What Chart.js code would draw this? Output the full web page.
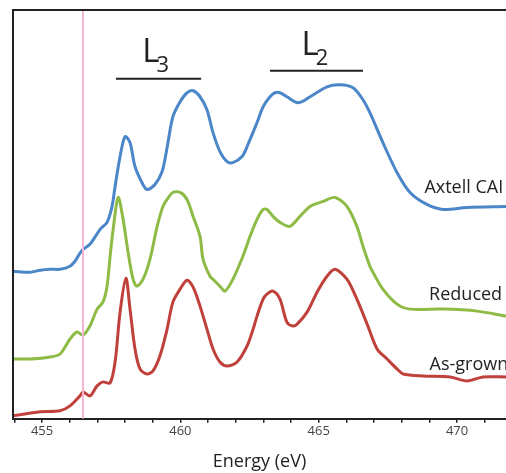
<!DOCTYPE html>
<html lang="en">
<head>
  <meta charset="UTF-8">
  <title>Energy (eV)</title>
  <script src="https://cdn.jsdelivr.net/npm/chart.js"></script>
  <style>
    body { margin: 0; background: #fff; }
  </style>
</head>
<body>
  <canvas id="xasChart" width="506" height="473"></canvas>

  <script>
    // spectra (energy in eV, intensity in arbitrary offset units)
    const axtellEnergy = [453.95, 454.57, 454.93, 455.29, 455.65, 456.01, 456.19, 456.37, 456.48, 456.73, 457.10, 457.35, 457.53, 457.64, 457.82, 458.00, 458.18, 458.36, 458.61, 458.79, 459.08, 459.34, 459.52, 459.73, 459.99, 460.24, 460.46, 460.71, 460.96, 461.18, 461.43, 461.69, 461.90, 462.23, 462.44, 462.77, 462.99, 463.24, 463.42, 463.60, 463.85, 464.25, 464.69, 465.30, 465.77, 466.24, 466.60, 466.85, 467.32, 467.83, 468.30, 468.91, 469.49, 470.36, 471.77];
    const axtellCAI = [148, 147, 149, 150, 150, 153, 158, 166, 170, 175, 190, 197, 213, 233, 263, 283, 277, 253, 237, 230, 235, 248, 272, 303, 318, 327, 329, 323, 310, 287, 268, 258, 257, 263, 275, 297, 313, 323, 327, 327, 323, 317, 323, 333, 335, 332, 320, 307, 277, 247, 227, 215, 210, 212, 213];

    const reducedEnergy = [453.95, 454.57, 455.29, 455.65, 456.01, 456.26, 456.48, 456.73, 456.99, 457.20, 457.35, 457.46, 457.57, 457.75, 457.93, 458.11, 458.29, 458.43, 458.65, 458.90, 459.16, 459.37, 459.52, 459.73, 459.99, 460.24, 460.46, 460.71, 460.82, 461.07, 461.18, 461.43, 461.61, 461.90, 462.26, 462.52, 462.77, 462.99, 463.13, 463.35, 463.60, 463.96, 464.32, 464.69, 465.16, 465.59, 466.02, 466.38, 466.60, 466.85, 466.96, 467.32, 467.83, 468.30, 469.49, 470.72, 471.77];
    const reduced = [60, 60, 62, 65, 80, 87, 84, 93, 110, 117, 133, 163, 190, 222, 200, 167, 140, 133, 140, 160, 193, 213, 220, 227, 227, 220, 203, 183, 160, 143, 140, 133, 128, 140, 163, 183, 200, 210, 210, 203, 197, 193, 203, 213, 218, 222, 213, 193, 173, 153, 147, 130, 115, 110, 110, 108, 103];

    const asGrownEnergy = [453.95, 454.93, 455.65, 456.01, 456.37, 456.48, 456.73, 456.99, 457.20, 457.46, 457.64, 457.82, 458.03, 458.18, 458.36, 458.54, 458.79, 459.01, 459.26, 459.52, 459.73, 459.99, 460.24, 460.46, 460.71, 460.96, 461.18, 461.43, 461.69, 462.05, 462.41, 462.63, 462.77, 462.99, 463.13, 463.35, 463.60, 463.85, 464.07, 464.22, 464.58, 464.94, 465.30, 465.59, 466.02, 466.38, 466.75, 467.11, 467.47, 467.83, 468.05, 468.77, 469.75, 470.36, 470.94, 471.77];
    const asGrown = [3, 7, 8, 13, 23, 27, 23, 33, 37, 36, 57, 107, 141, 110, 70, 50, 45, 48, 63, 90, 117, 130, 139, 132, 113, 90, 70, 57, 53, 57, 73, 90, 103, 120, 125, 128, 120, 97, 93, 95, 107, 127, 143, 150, 140, 120, 95, 70, 60, 50, 45, 43, 42, 38, 42, 42];

    const seriesNames = ['Axtell CAI', 'Reduced', 'As-grown'];
    const seriesColors = ['#4a86c8', '#8dbb45', '#c0403c'];

    // curve name positions (energy of right edge, intensity of text middle)
    const nameEnergy = [471.67, 471.63, 471.85];
    const nameLevel = [232, 124, 54];

    // edge labels and their bars
    const edgeNames = ['L', 'L'];
    const edgeSubs = ['3', '2'];
    const edgeTextEnergy = [458.62, 464.38];
    const edgeTextLevel = [358, 365];
    const l3Bar = [457.67, 460.75];
    const l2Bar = [463.24, 466.60];
    const barLevels = [341, 349];

    const markerEnergy = 456.48;

    const toPoints = (xs, ys) => xs.map((x, i) => ({ x, y: ys[i] }));

    const overlay = {
      id: 'overlay',
      afterDatasetsDraw(chart) {
        const { ctx, chartArea, scales: { x, y } } = chart;
        ctx.save();
        ctx.strokeStyle = '#222';
        ctx.lineWidth = 2;
        ctx.beginPath();
        ctx.moveTo(chartArea.left, chartArea.bottom);
        ctx.lineTo(chartArea.left, chartArea.top);
        ctx.lineTo(chartArea.right, chartArea.top);
        ctx.stroke();

        ctx.fillStyle = '#222';
        ctx.textBaseline = 'middle';
        ctx.textAlign = 'right';
        ctx.font = '18px "Open Sans"';
        seriesNames.forEach((n, i) => {
          ctx.fillText(n, x.getPixelForValue(nameEnergy[i]), y.getPixelForValue(nameLevel[i]));
        });

        ctx.textAlign = 'left';
        ctx.textBaseline = 'alphabetic';
        edgeNames.forEach((n, i) => {
          const px = x.getPixelForValue(edgeTextEnergy[i]);
          const py = y.getPixelForValue(edgeTextLevel[i]);
          ctx.font = '33px "Open Sans"';
          const w = ctx.measureText(n).width;
          ctx.fillText(n, px, py);
          ctx.font = '22px "Open Sans"';
          ctx.fillText(edgeSubs[i], px + w - 3, py + 10);
        });
        ctx.restore();
      }
    };

    const ctx = document.getElementById('xasChart').getContext('2d');
    const xasChart = new Chart(ctx, {
      type: 'line',
      data: {
        datasets: [
          {
            label: 'marker',
            data: [{ x: markerEnergy, y: 0 }, { x: markerEnergy, y: 410 }],
            borderColor: '#f6b6d6',
            borderWidth: 2,
            pointRadius: 0
          },
          {
            label: 'L3 bar',
            data: l3Bar.map(e => ({ x: e, y: barLevels[0] })),
            borderColor: '#222',
            borderWidth: 2,
            pointRadius: 0
          },
          {
            label: 'L2 bar',
            data: l2Bar.map(e => ({ x: e, y: barLevels[1] })),
            borderColor: '#222',
            borderWidth: 2,
            pointRadius: 0
          },
          {
            label: seriesNames[2],
            data: toPoints(asGrownEnergy, asGrown),
            borderColor: seriesColors[2],
            borderWidth: 3,
            pointRadius: 0,
            tension: 0.3
          },
          {
            label: seriesNames[1],
            data: toPoints(reducedEnergy, reduced),
            borderColor: seriesColors[1],
            borderWidth: 3,
            pointRadius: 0,
            tension: 0.3
          },
          {
            label: seriesNames[0],
            data: toPoints(axtellEnergy, axtellCAI),
            borderColor: seriesColors[0],
            borderWidth: 3,
            pointRadius: 0,
            tension: 0.3
          }
        ]
      },
      options: {
        responsive: false,
        animation: false,
        layout: { padding: { left: 13, top: 10, right: 0, bottom: 0 } },
        plugins: {
          legend: { display: false },
          tooltip: { enabled: false }
        },
        scales: {
          x: {
            type: 'linear',
            min: 453.95,
            max: 471.77,
            border: { display: true, color: '#222', width: 2 },
            grid: { drawOnChartArea: false, drawTicks: true, tickLength: 4, tickColor: '#222', lineWidth: 1.5 },
            ticks: {
              stepSize: 1,
              includeBounds: false,
              autoSkip: false,
              maxRotation: 0,
              padding: 1,
              color: '#444',
              font: { family: '"Open Sans"', size: 13 },
              callback: v => (v % 5 === 0 ? v : '')
            },
            title: {
              display: true,
              text: 'Energy (eV)',
              color: '#222',
              font: { family: '"Open Sans"', size: 18 },
              padding: { top: 11, bottom: 0 }
            }
          },
          y: {
            display: false,
            min: 0,
            max: 410
          }
        }
      },
      plugins: [overlay]
    });
  </script>
</body>
</html>
